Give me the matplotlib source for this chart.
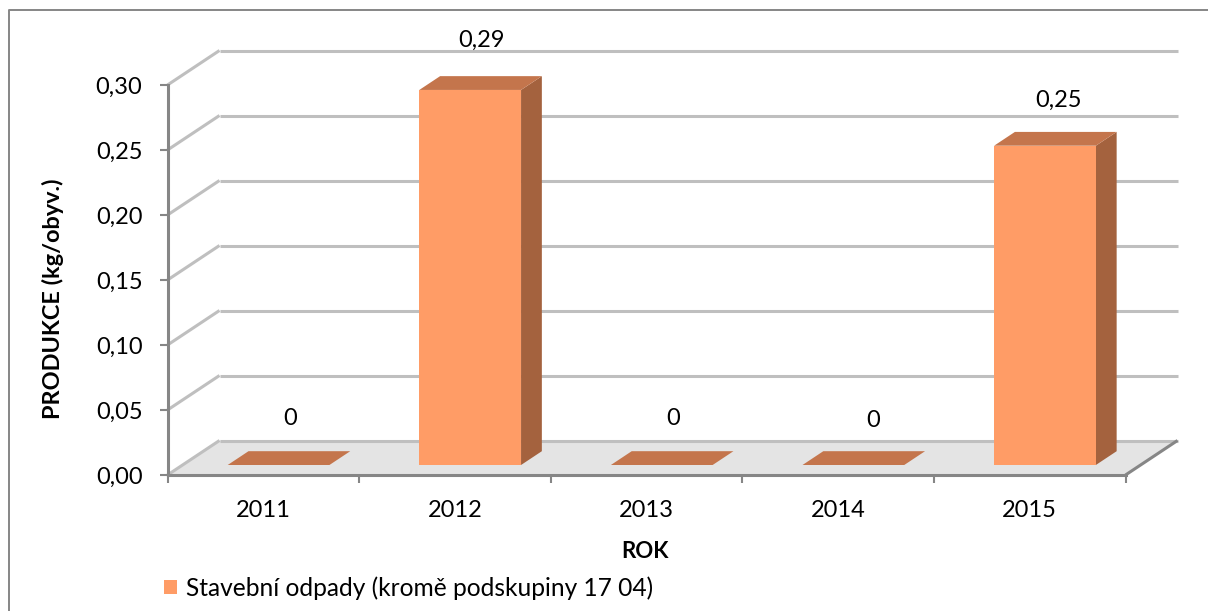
import matplotlib
matplotlib.use("Agg")
import matplotlib.pyplot as plt
from matplotlib.patches import Polygon
from matplotlib.lines import Line2D

years = ["2011", "2012", "2013", "2014", "2015"]
values = [0, 0.2885, 0, 0, 0.2456]
value_labels = ["0", "0,29", "0", "0", "0,25"]
y_ticks = [0.00, 0.05, 0.10, 0.15, 0.20, 0.25, 0.30]
y_tick_labels = ["0,00", "0,05", "0,10", "0,15", "0,20", "0,25", "0,30"]
series_name = "Stavební odpady (kromě podskupiny 17 04)"
x_title = "ROK"
y_title = "PRODUKCE (kg/obyv.)"

W, H = 1208, 611
plt.rcParams["font.family"] = ["Lato", "DejaVu Sans"]
fig = plt.figure(figsize=(W / 100, H / 100), dpi=100, facecolor="white")
L, R, T, B = 167.5, 1125.5, 85, 475
ax = fig.add_axes([L / W, 1 - B / H, (R - L) / W, (B - T) / H])
ax.set_xlim(-0.5, 4.5)
ax.set_ylim(0, 0.30)
ax.patch.set_visible(False)

px_x = 5 / (R - L)
px_y = 0.30 / (B - T)
DX, DY = 52 * px_x, 34.5 * px_y   # full floor depth
BAR_W = 0.531
F0, F1 = 0.29, 0.69               # depth of the bar's front and back face
FS = 17
WALL, AXIS = "#BFBFBF", "#868686"
label_offsets = [(8, 33.5), (8, 36), (8, 33.5), (14, 32), (9.5, 33)]  # points


def dep(x, y, d):
    return (x + d * DX, y + d * DY)


# floor
ax.add_patch(Polygon([dep(-0.5, 0, 0), dep(4.5, 0, 0), dep(4.5, 0, 1), dep(-0.5, 0, 1)],
                     closed=True, fc="#E4E4E4", ec="none", zorder=1, clip_on=False))
# walls and gridlines
for t in y_ticks:
    ax.add_line(Line2D(*zip(dep(-0.5, t, 0), dep(-0.5, t, 1)), color=WALL, lw=2.2,
                       zorder=1.5, clip_on=False, solid_capstyle="butt"))
    ax.add_line(Line2D(*zip(dep(-0.5, t, 1), dep(4.5, t, 1)), color=WALL, lw=2.2,
                       zorder=1.5, clip_on=False, solid_capstyle="butt"))
ax.add_line(Line2D(*zip(dep(4.5, 0, 0), dep(4.5, 0, 1)), color=AXIS, lw=2.2,
                   zorder=2, clip_on=False, solid_capstyle="butt"))

# bars
centers = [i + F0 * DX + 0.2 * px_x for i in range(len(years))]
base = F0 * DY
bars = ax.bar(centers, values, width=BAR_W, bottom=base, color="#FF9C66", zorder=4,
              label=series_name, clip_on=False)
for xc, v, lab, off in zip(centers, values, value_labels, label_offsets):
    x0, x1 = xc - BAR_W / 2, xc + BAR_W / 2
    d = F1 - F0
    top = base + v
    if v > 0:
        ax.add_patch(Polygon([(x1, base), (x1, top), dep(x1, top, d), dep(x1, base, d)],
                             closed=True, fc="#A4623E", ec="none", zorder=3, clip_on=False))
    ax.add_patch(Polygon([(x0, top), (x1, top), dep(x1, top, d), dep(x0, top, d)],
                         closed=True, fc="#C4754C", ec="none", zorder=3, clip_on=False))
    ax.annotate(lab, xy=(xc, top), xytext=off, textcoords="offset points",
                ha="center", va="center", fontsize=FS, color="black", zorder=6,
                annotation_clip=False)

# axes
for s in ("top", "right"):
    ax.spines[s].set_visible(False)
for s in ("left", "bottom"):
    ax.spines[s].set_color(AXIS)
    ax.spines[s].set_linewidth(2.2)
    ax.spines[s].set_zorder(5)
ax.set_yticks(y_ticks, y_tick_labels, fontsize=FS)
ax.tick_params(axis="y", length=6, width=1.5, color=AXIS, pad=12)
ax.set_xticks([i - 0.5 for i in range(len(years) + 1)], [""] * (len(years) + 1))
ax.set_xticks(range(len(years)), years, minor=True, fontsize=FS)
ax.tick_params(axis="x", which="major", length=6, width=1.5, color=AXIS)
ax.tick_params(axis="x", which="minor", length=0, pad=18)

fig.text(53 / W, 1 - 299 / H, y_title, rotation=90, ha="center", va="center",
         fontsize=16.9, fontweight="bold")
fig.text(645 / W, 1 - 551 / H, x_title, ha="center", va="center",
         fontsize=16, fontweight="bold")

fig.legend(handles=[bars], labels=[series_name], loc="center left",
           bbox_to_anchor=(164 / W, 1 - 588 / H), frameon=False, fontsize=17.65,
           handlelength=0.54, handleheight=0.54, handletextpad=0.37, borderpad=0,
           borderaxespad=0)

# chart frame
fig.add_artist(Line2D([8.5 / W, 8.5 / W, 1], [0, 1 - 9.5 / H, 1 - 9.5 / H],
                      color=AXIS, lw=1.4, transform=fig.transFigure))
fig.savefig("out.png", dpi=100)
